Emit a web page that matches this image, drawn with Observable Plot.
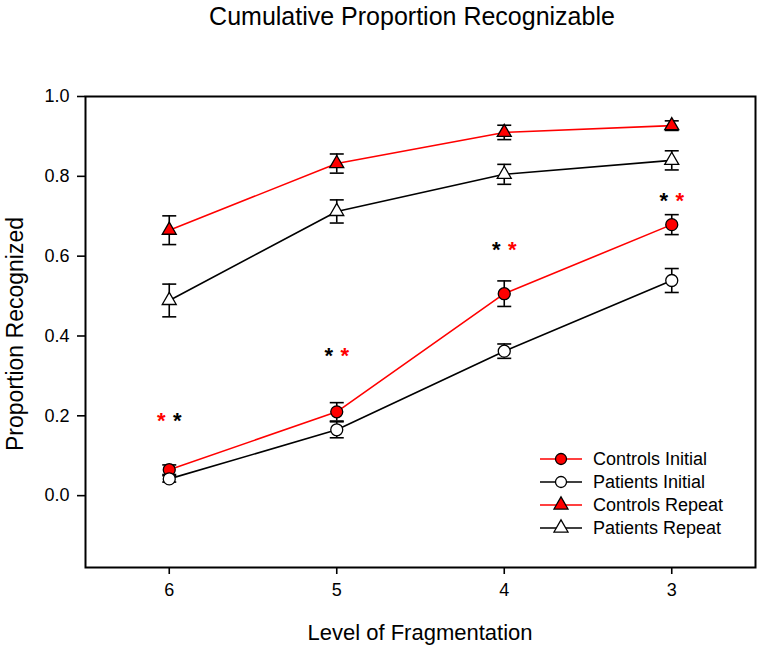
<!DOCTYPE html>
<html>
<head>
<meta charset="utf-8">
<script src="https://cdn.jsdelivr.net/npm/d3@7"></script>
<script src="https://cdn.jsdelivr.net/npm/@observablehq/plot@0.6"></script>
<style>
  body { margin: 0; background: #fff; }
  #chart { width: 765px; height: 650px; }
  svg text { font-family: "Liberation Sans", Arial, sans-serif; }
</style>
</head>
<body>
<div id="chart"></div>
<script>
const levels = [6, 5, 4, 3];
const seriesNames = ["Controls Initial", "Patients Initial", "Controls Repeat", "Patients Repeat"];
const controlsInitial = [0.065, 0.21, 0.506, 0.679];
const controlsInitialErr = [0.012, 0.023, 0.032, 0.025];
const patientsInitial = [0.042, 0.165, 0.362, 0.539];
const patientsInitialErr = [0.008, 0.02, 0.018, 0.03];
const controlsRepeat = [0.665, 0.832, 0.91, 0.927];
const controlsRepeatErr = [0.036, 0.024, 0.018, 0.012];
const patientsRepeat = [0.489, 0.712, 0.805, 0.84];
const patientsRepeatErr = [0.041, 0.029, 0.025, 0.024];
const yTicks = [0, 0.2, 0.4, 0.6, 0.8, 1.0];
// significance asterisks: level, y, colour order (left, right)
const starLevels = [6, 5, 4, 3];
const starY = [0.2, 0.363, 0.627, 0.75];
const starLeft = ["red", "black", "black", "black"];
const starRight = ["black", "red", "red", "red"];

const styles = {
  "Controls Initial": {stroke: "#ff0000", fill: "#ff0000", symbol: "circle"},
  "Patients Initial": {stroke: "#000000", fill: "#ffffff", symbol: "circle"},
  "Controls Repeat": {stroke: "#ff0000", fill: "#ff0000", symbol: "triangle"},
  "Patients Repeat": {stroke: "#000000", fill: "#ffffff", symbol: "triangle"}
};
const vals = [controlsInitial, patientsInitial, controlsRepeat, patientsRepeat];
const errs = [controlsInitialErr, patientsInitialErr, controlsRepeatErr, patientsRepeatErr];

const data = [];
seriesNames.forEach((s, i) => {
  levels.forEach((l, j) => {
    data.push({series: s, level: l, value: vals[i][j], lo: vals[i][j] - errs[i][j], hi: vals[i][j] + errs[i][j]});
  });
});
const stars = [];
starLevels.forEach((l, i) => {
  stars.push({level: l, y: starY[i], color: starLeft[i], side: -1});
  stars.push({level: l, y: starY[i], color: starRight[i], side: 1});
});

const capSymbol = {
  draw(context, size) {
    const r = Math.sqrt(size / Math.PI);
    context.moveTo(-r, 0);
    context.lineTo(r, 0);
  }
};

const font = '"Liberation Sans", Arial, sans-serif';
const circleR = 6, triR = 5.2;

const marks = [];
for (const s of seriesNames) {
  const d = data.filter(e => e.series === s);
  marks.push(Plot.line(d, {x: "level", y: "value", stroke: styles[s].stroke, strokeWidth: 1.6}));
}
marks.push(Plot.ruleX(data, {x: "level", y1: "lo", y2: "hi", stroke: "black", strokeWidth: 1.6}));
marks.push(Plot.dot(data, {x: "level", y: "lo", symbol: capSymbol, r: 7, stroke: "black", strokeWidth: 1.6}));
marks.push(Plot.dot(data, {x: "level", y: "hi", symbol: capSymbol, r: 7, stroke: "black", strokeWidth: 1.6}));
for (const s of seriesNames) {
  const d = data.filter(e => e.series === s);
  marks.push(Plot.dot(d, {x: "level", y: "value", symbol: styles[s].symbol, r: styles[s].symbol === "circle" ? circleR : triR, fill: styles[s].fill, stroke: "black", strokeWidth: 1.3}));
}
for (const side of [-1, 1]) {
  marks.push(Plot.text(stars.filter(d => d.side === side), {x: "level", y: "y", text: () => "*", fill: "color", fontSize: 22, fontWeight: "bold", dx: side * 8, dy: 5}));
}
marks.push(Plot.frame({stroke: "black", strokeWidth: 2}));
marks.push(Plot.axisY({ticks: yTicks, tickFormat: d3.format(".1f"), tickSize: 8, tickPadding: 8, fontSize: 18, label: null, strokeWidth: 1.6}));
marks.push(Plot.axisX({ticks: levels, tickFormat: d => String(d), tickSize: 7, tickPadding: 9, fontSize: 18, label: null, strokeWidth: 1.6}));

const chart = Plot.plot({
  width: 765,
  height: 650,
  marginLeft: 85,
  marginRight: 10,
  marginTop: 96,
  marginBottom: 83,
  style: {fontFamily: font, background: "white", color: "black"},
  x: {domain: [6.5, 2.5]},
  y: {domain: [-0.18, 1.0]},
  marks
});
document.getElementById("chart").appendChild(chart);

const svg = d3.select(chart);
svg.append("text").attr("x", 412).attr("y", 25).attr("text-anchor", "middle")
  .attr("font-size", 25).attr("font-family", font).attr("fill", "black")
  .text("Cumulative Proportion Recognizable");
svg.append("text").attr("x", 420).attr("y", 640).attr("text-anchor", "middle")
  .attr("font-size", 22).attr("font-family", font).attr("fill", "black")
  .text("Level of Fragmentation");
svg.append("text").attr("transform", "translate(23,334) rotate(-90)").attr("text-anchor", "middle")
  .attr("font-size", 23).attr("font-family", font).attr("fill", "black")
  .text("Proportion Recognized");

// legend
const legendRows = [459, 482, 505, 528];
seriesNames.forEach((s, i) => {
  const g = svg.append("g");
  const y = legendRows[i];
  const st = styles[s];
  g.append("line").attr("x1", 540).attr("x2", 582).attr("y1", y).attr("y2", y)
    .attr("stroke", st.stroke).attr("stroke-width", 1.6);
  const sym = st.symbol === "circle" ? d3.symbolCircle : d3.symbolTriangle;
  const r = st.symbol === "circle" ? 5.5 : triR;
  g.append("path").attr("d", d3.symbol(sym, Math.PI * r * r)()).attr("transform", `translate(561,${y})`)
    .attr("fill", st.fill).attr("stroke", "black").attr("stroke-width", 1.3);
  g.append("text").attr("x", 593).attr("y", y).attr("dy", "0.35em").attr("text-anchor", "start")
    .attr("font-size", 18).attr("font-family", font).attr("fill", "black").text(s);
});
</script>
</body>
</html>
